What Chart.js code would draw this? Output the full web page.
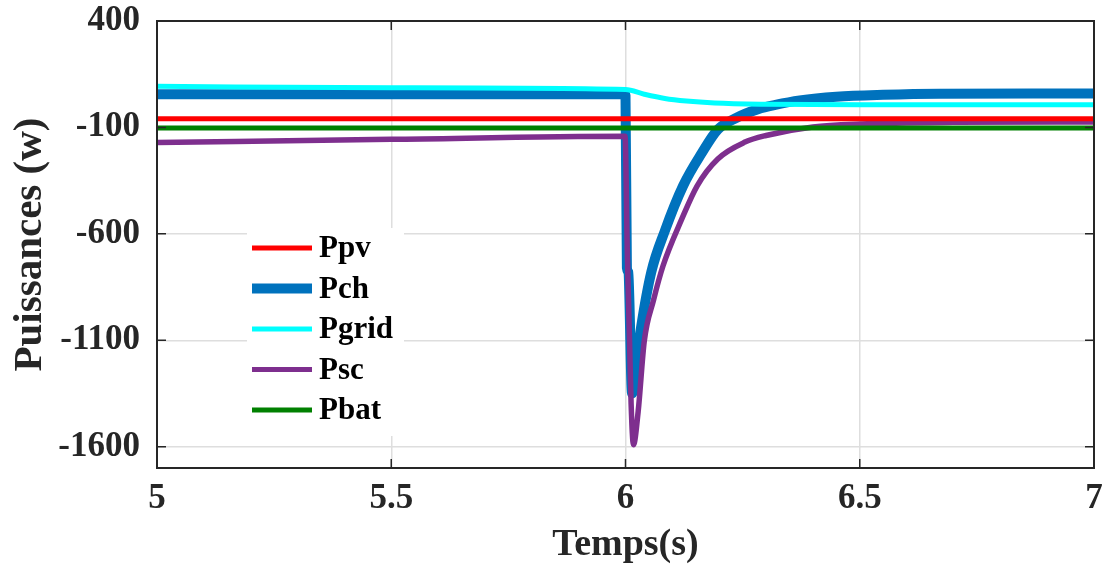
<!DOCTYPE html>
<html>
<head>
<meta charset="utf-8">
<script src="https://cdn.jsdelivr.net/npm/chart.js@4.4.1/dist/chart.umd.min.js"></script>
<style>
  html, body { margin: 0; padding: 0; background: #fff; }
  #wrap { width: 1102px; height: 564px; }
</style>
</head>
<body>
<div id="wrap"><canvas id="chart" width="1102" height="564"></canvas></div>
<script>
'use strict';

// ─── Data ────────────────────────────────────────────────────────────────────

const xTicks = [5, 5.5, 6, 6.5, 7];
const yTicks = [-1600, -1100, -600, -100, 400];

const tPpv = [5, 7];
const ppv  = [-59, -59];

const tPbat = [5, 7];
const pbat  = [-103, -103];

const tPch = [5, 5.5, 5.999, 6.0, 6.003, 6.006, 6.014, 6.033, 6.055, 6.084, 6.123, 6.163, 6.197, 6.234, 6.283, 6.32, 6.372, 6.45, 6.55, 6.67, 7];
const pch  = [56, 56, 56, 50, -760, -780, -1350, -1042, -780, -586, -374, -220, -110, -58, -14, 6, 27, 44, 53, 58, 59];

const tPgrid = [5, 5.5, 6.0, 6.04, 6.084, 6.13, 6.19, 6.3, 6.5, 7];
const pgrid  = [93, 86, 78, 56, 36, 24, 15, 9, 6, 6];

const tPsc = [5, 5.5, 5.999, 6.004, 6.012, 6.017, 6.027, 6.04, 6.06, 6.08, 6.12, 6.153, 6.197, 6.255, 6.3, 6.4, 6.5, 6.7, 7];
const psc  = [-171, -156, -142, -700, -1400, -1591, -1435, -1105, -910, -751, -531, -374, -248, -169, -138, -98, -84, -76, -74];

const labels = ['Ppv', 'Pch', 'Pgrid', 'Psc', 'Pbat'];

// ─── Helpers ─────────────────────────────────────────────────────────────────

const FONT = "'Liberation Serif', 'Times New Roman', serif";
const INK = '#262626';

function pts(ts, vs) {
  return ts.map((t, i) => ({ x: t, y: vs[i] }));
}

function series(label, ts, vs, color, width, order) {
  return {
    label,
    data: pts(ts, vs),
    borderColor: color,
    backgroundColor: color,
    borderWidth: width,
    pointRadius: 0,
    fill: false,
    cubicInterpolationMode: 'monotone',
    borderCapStyle: 'round',
    borderJoinStyle: 'round',
    order,
  };
}

// no extra room for overflowing tick labels, layout padding decides
function noOverflow(s) {
  s.paddingTop = 0; s.paddingBottom = 0; s.paddingLeft = 0; s.paddingRight = 0;
}

// box, inward ticks (MATLAB style)
const boxPlugin = {
  id: 'box',
  afterDraw(chart) {
    const { ctx, chartArea: a, scales } = chart;
    ctx.save();
    ctx.strokeStyle = INK;
    ctx.lineWidth = 1.5;
    ctx.beginPath();
    scales.x.ticks.forEach(t => {
      const px = scales.x.getPixelForValue(t.value);
      ctx.moveTo(px, a.bottom); ctx.lineTo(px, a.bottom - 9);
      ctx.moveTo(px, a.top); ctx.lineTo(px, a.top + 9);
    });
    scales.y.ticks.forEach(t => {
      const py = scales.y.getPixelForValue(t.value);
      ctx.moveTo(a.left, py); ctx.lineTo(a.left + 9, py);
      ctx.moveTo(a.right, py); ctx.lineTo(a.right - 9, py);
    });
    ctx.stroke();
    ctx.lineWidth = 2;
    ctx.strokeRect(a.left, a.top, a.right - a.left, a.bottom - a.top);
    ctx.restore();
  },
};

// legend drawn inside the plot area
const legendPlugin = {
  id: 'innerLegend',
  afterDatasetsDraw(chart) {
    const { ctx, chartArea: a } = chart;
    const x0 = a.left + 90, y0 = a.top + 207;
    ctx.save();
    ctx.fillStyle = '#fff';
    ctx.fillRect(x0, y0, 157, 208);
    ctx.font = 'bold 31px ' + FONT;
    ctx.textBaseline = 'middle';
    ctx.textAlign = 'left';
    labels.forEach((lab, i) => {
      const ds = chart.data.datasets.find(d => d.label === lab);
      const y = y0 + 20 + i * 40.5;
      ctx.strokeStyle = ds.borderColor;
      ctx.lineWidth = lab === 'Pch' ? 10 : 5;
      ctx.lineCap = 'butt';
      ctx.beginPath();
      ctx.moveTo(x0 + 5, y);
      ctx.lineTo(x0 + 65, y);
      ctx.stroke();
      ctx.fillStyle = '#000';
      ctx.fillText(lab, x0 + 72, y + 1);
    });
    ctx.restore();
  },
};

// ─── Chart ───────────────────────────────────────────────────────────────────

new Chart(document.getElementById('chart').getContext('2d'), {
  type: 'line',
  data: {
    datasets: [
      series('Ppv', tPpv, ppv, '#ff0000', 5, 2),
      series('Pch', tPch, pch, '#0072bd', 10, 5),
      series('Pgrid', tPgrid, pgrid, '#00ffff', 5, 4),
      series('Psc', tPsc, psc, '#7e2f8e', 5.5, 3),
      series('Pbat', tPbat, pbat, '#008000', 5, 1),
    ],
  },
  options: {
    responsive: false,
    animation: false,
    devicePixelRatio: 1,
    layout: { padding: { top: 21, right: 8, left: 0, bottom: 0 } },
    plugins: { legend: { display: false }, tooltip: { enabled: false } },
    scales: {
      x: {
        type: 'linear',
        min: xTicks[0], max: xTicks[xTicks.length - 1],
        afterBuildTicks: s => { s.ticks = xTicks.map(v => ({ value: v })); },
        afterFit: s => { s.height = 96; noOverflow(s); },
        grid: { color: '#dedede', lineWidth: 1.5, drawTicks: false },
        border: { display: false },
        ticks: {
          color: INK, padding: 10, maxRotation: 0,
          font: { family: FONT, size: 35, weight: 'bold' },
          callback: v => String(v),
        },
        title: {
          display: true, text: 'Temps(s)', color: INK,
          font: { family: FONT, size: 38, weight: 'bold', lineHeight: 1 },
          padding: 0,
        },
      },
      y: {
        type: 'linear',
        min: -1700, max: 400,
        afterBuildTicks: s => { s.ticks = yTicks.map(v => ({ value: v })); },
        afterFit: s => { s.width = 157; noOverflow(s); },
        grid: { color: '#dedede', lineWidth: 1.5, drawTicks: false },
        border: { display: false },
        ticks: {
          color: INK, padding: 17,
          font: { family: FONT, size: 35, weight: 'bold' },
          callback: v => String(v),
        },
        title: {
          display: true, text: 'Puissances (w)', color: INK,
          font: { family: FONT, size: 41, weight: 'bold', lineHeight: 1 },
          padding: { top: 10, bottom: 0 },
        },
      },
    },
  },
  plugins: [legendPlugin, boxPlugin],
});
</script>
</body>
</html>
